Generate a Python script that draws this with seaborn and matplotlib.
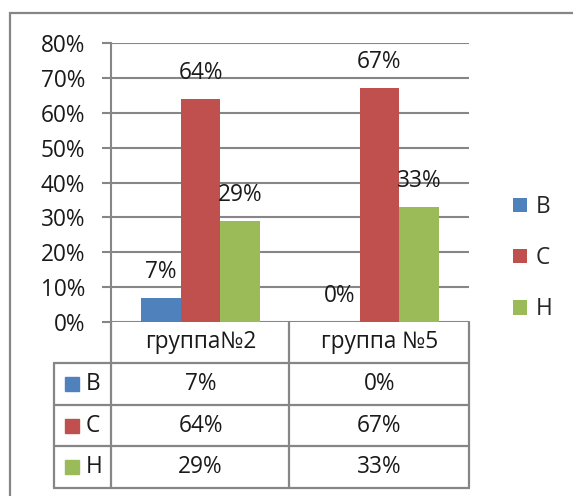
import pandas as pd
import matplotlib.pyplot as plt
import seaborn as sns
from matplotlib.lines import Line2D
from matplotlib.patches import Rectangle
from matplotlib.ticker import PercentFormatter
from matplotlib.transforms import blended_transform_factory

# dados
grupos = ['группа№2', 'группа №5']
niveis = ['В', 'С', 'Н']
val_b = [0.07, 0.00]
val_c = [0.64, 0.67]
val_h = [0.29, 0.33]
cores = ['#4F81BD', '#C0504D', '#9BBB59']

df = pd.DataFrame({
    'grupo': grupos * 3,
    'nivel': [n for n in niveis for _ in grupos],
    'valor': val_b + val_c + val_h,
})

sns.set_style('white')
plt.rcParams['font.family'] = ['Open Sans', 'DejaVu Sans']
FS = 16.3
CINZA = '#868686'
W, H = 573, 496

fig = plt.figure(figsize=(W / 100, H / 100), dpi=100)

def fx(x):
    return x / W

def fy(y):
    return 1 - y / H

ax = fig.add_axes([fx(111), fy(322), fx(469) - fx(111), fy(43) - fy(322)])
sns.barplot(data=df, x='grupo', y='valor', hue='nivel', palette=cores,
            width=0.67, ax=ax, saturation=1, zorder=3, linewidth=0)

for cont in ax.containers:
    ax.bar_label(cont, labels=[f'{v * 100:.0f}%' for v in cont.datavalues],
                 padding=10, fontsize=FS, color='#1a1a1a')

ax.set_xlim(-0.5, 1.5)
ax.set_ylim(0, 0.8)
ax.set_yticks([i / 10 for i in range(9)])
ax.yaxis.set_major_formatter(PercentFormatter(1, decimals=0))
ax.tick_params(axis='y', labelsize=FS, length=6.5, width=1.5, color=CINZA,
               left=True, pad=12, labelcolor='#1a1a1a')
ax.set_xticks([])
ax.set_xlabel('')
ax.set_ylabel('')
ax.grid(axis='y', color=CINZA, lw=1.5, zorder=0)
for s in ['top', 'right', 'bottom']:
    ax.spines[s].set_visible(False)
ax.spines['left'].set_color(CINZA)
ax.spines['left'].set_linewidth(1.5)

handles, labels = ax.get_legend_handles_labels()
ax.legend(handles, labels, loc='center left', bbox_to_anchor=(fx(513), fy(258)),
          bbox_transform=fig.transFigure, frameon=False, fontsize=FS,
          handlelength=0.62, handleheight=0.62, handletextpad=0.4,
          labelspacing=1.2, borderpad=0, borderaxespad=0)

# tabela de dados abaixo do gráfico
def linha(x0, y0, x1, y1):
    fig.add_artist(Line2D([fx(x0), fx(x1)], [fy(y0), fy(y1)], color=CINZA, lw=1.6,
                          transform=fig.transFigure))

linha(111, 322, 111, 488)
linha(289, 322, 289, 488)
linha(469, 322, 469, 488)
linha(54, 363, 54, 488)
for yy in [363, 405, 446, 488]:
    linha(54, yy, 469, yy)

tr = blended_transform_factory(ax.transData, fig.transFigure)
for i, g in enumerate(grupos):
    fig.text(i, fy(342), g, transform=tr, ha='center', va='center', fontsize=FS, color='#1a1a1a')

linhas_y = [384, 425.5, 467]
for nivel, cor, vals, yy in zip(niveis, cores, [val_b, val_c, val_h], linhas_y):
    fig.add_artist(Rectangle((fx(65), fy(yy + 7)), 14 / W, 14 / H, color=cor,
                             transform=fig.transFigure))
    fig.text(fx(86), fy(yy), nivel, ha='left', va='center', fontsize=FS, color='#1a1a1a')
    for i, v in enumerate(vals):
        fig.text(i, fy(yy), f'{v * 100:.0f}%', transform=tr, ha='center', va='center',
                 fontsize=FS, color='#1a1a1a')

# moldura externa
fig.add_artist(Rectangle((fx(10), fy(600)), 700 / W, (600 - 13) / H, fill=False,
                         edgecolor=CINZA, lw=1.6, transform=fig.transFigure))

fig.savefig('out.png', dpi=100)
